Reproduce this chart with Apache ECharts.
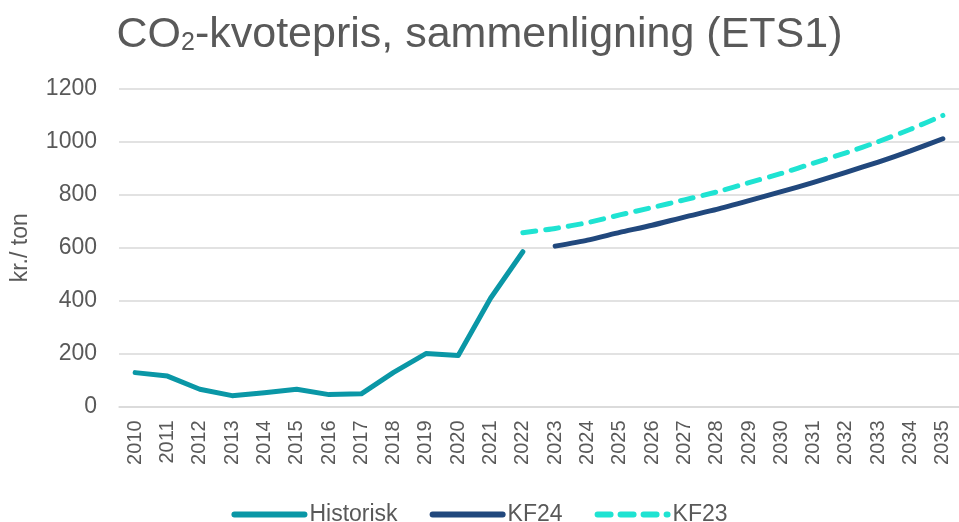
<!DOCTYPE html>
<html>
<head>
<meta charset="utf-8">
<script src="https://cdn.jsdelivr.net/npm/echarts@6/dist/echarts.min.js"></script>
<style>
  html, body { margin: 0; padding: 0; background: #fff; }
  #chart { width: 959px; height: 522px; }
</style>
</head>
<body>
<div id="chart"></div>
<script>
// år på x-aksen
var years = ['2010', '2011', '2012', '2013', '2014', '2015', '2016', '2017', '2018',
  '2019', '2020', '2021', '2022', '2023', '2024', '2025', '2026', '2027', '2028',
  '2029', '2030', '2031', '2032', '2033', '2034', '2035']
// kr./ton
var historisk = [128, 115, 65, 41, 52, 65, 45, 48, 129, 200, 193, 409, 585,
  null, null, null, null, null, null, null, null, null, null, null, null, null]
var kf24 = [null, null, null, null, null, null, null, null, null, null, null, null, null,
  606, 629, 658, 685, 716, 745, 778, 812, 847, 885, 924, 966, 1012]
var kf23 = [null, null, null, null, null, null, null, null, null, null, null, null, 657,
  673, 695, 724, 752, 781, 811, 846, 881, 920, 959, 1001, 1048, 1100]
var yTicks = [0, 200, 400, 600, 800, 1000, 1200]

var grey = '#595959'
var font = 'Liberation Sans, Arial, sans-serif'
var myChart = echarts.init(document.getElementById('chart'))
var option = {
  animation: false,
  title: {
    text: 'CO{sub|2}-kvotepris, sammenligning (ETS1)',
    left: 'center',
    top: 9,
    textStyle: {
      fontFamily: font,
      fontSize: 43,
      fontWeight: 'normal',
      color: grey,
      rich: {
        sub: {
          fontFamily: font,
          fontSize: 25,
          color: grey,
          padding: [16, 0, 0, 0]
        }
      }
    }
  },
  legend: {
    top: 498,
    left: 'center',
    itemWidth: 70,
    itemHeight: 14,
    itemGap: 32,
    itemStyle: { opacity: 0 },
    lineStyle: { width: 6 },
    textStyle: {
      fontFamily: font,
      fontSize: 23,
      color: grey
    },
    data: ['Historisk', 'KF24', 'KF23']
  },
  grid: {
    left: 119,
    right: -4,
    top: 89,
    bottom: 115.5,
    containLabel: false
  },
  xAxis: {
    type: 'category',
    data: years,
    boundaryGap: true,
    axisLine: { lineStyle: { color: '#d9d9d9', width: 1.5 } },
    axisTick: { show: false },
    axisLabel: {
      rotate: 90,
      interval: 0,
      margin: 14,
      fontFamily: font,
      fontSize: 20,
      color: grey
    }
  },
  yAxis: {
    type: 'value',
    min: yTicks[0],
    max: yTicks[yTicks.length - 1],
    interval: 200,
    name: 'kr./ ton',
    nameLocation: 'middle',
    nameGap: 87,
    nameRotate: 90,
    nameTextStyle: {
      fontFamily: font,
      fontSize: 23,
      color: grey
    },
    axisLine: { show: false },
    axisTick: { show: false },
    axisLabel: {
      margin: 22,
      fontFamily: font,
      fontSize: 23,
      color: grey,
      formatter: function (v) { return String(v) }
    },
    splitLine: { lineStyle: { color: '#d9d9d9', width: 1.5 } }
  },
  series: [
    {
      name: 'Historisk',
      type: 'line',
      data: historisk,
      symbol: 'none',
      color: '#0A97A6',
      lineStyle: { width: 5, color: '#0A97A6', cap: 'round', join: 'round' }
    },
    {
      name: 'KF24',
      type: 'line',
      data: kf24,
      symbol: 'none',
      smooth: 0.2,
      color: '#21487D',
      lineStyle: { width: 5, color: '#21487D', cap: 'round', join: 'round' }
    },
    {
      name: 'KF23',
      type: 'line',
      data: kf23,
      symbol: 'none',
      smooth: 0.2,
      color: '#1FE3D2',
      lineStyle: { width: 5, color: '#1FE3D2', type: [13, 10], cap: 'round', join: 'round' }
    }
  ]
}
myChart.setOption(option)
</script>
</body>
</html>
